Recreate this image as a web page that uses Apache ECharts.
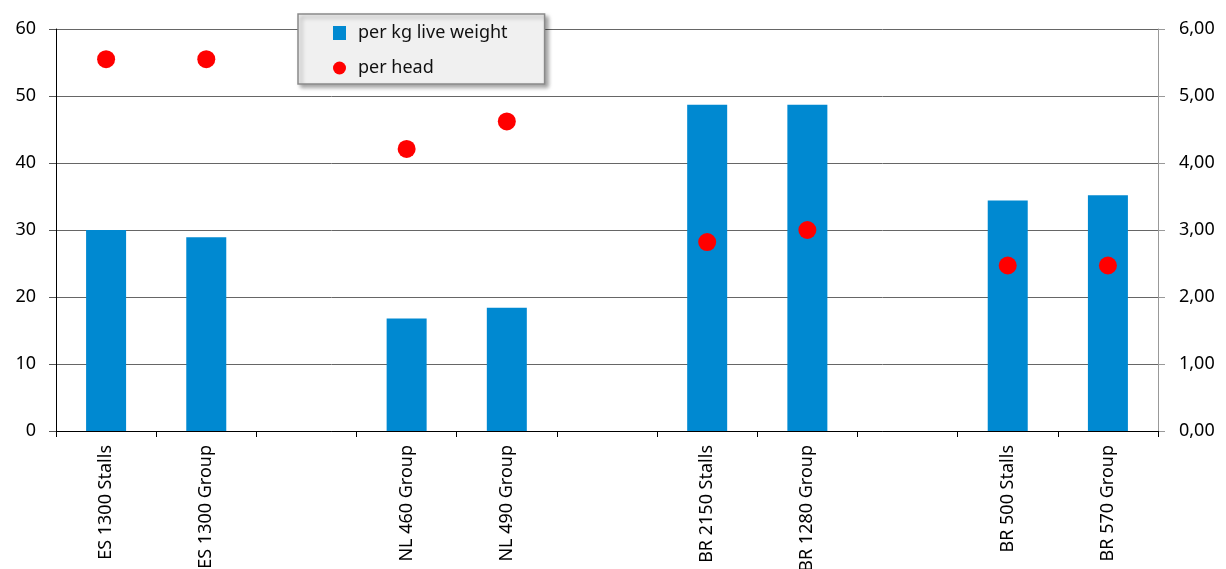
<!DOCTYPE html>
<html><head><meta charset="utf-8">
<script src="https://cdn.jsdelivr.net/npm/echarts@6/dist/echarts.min.js"></script>
<style>html,body{margin:0;padding:0;background:#fff}#c{width:1226px;height:569px}</style>
</head><body><div id="c"></div>
<script>
const categories = ["ES 1300 Stalls","ES 1300 Group","","NL 460 Group","NL 490 Group","","BR 2150 Stalls","BR 1280 Group","","BR 500 Stalls","BR 570 Group"];
const perKg = [30.0, 28.9, null, 16.8, 18.4, null, 48.7, 48.7, null, 34.4, 35.2];
const perHead = [5.55, 5.55, null, 4.21, 4.62, null, 2.82, 3.00, null, 2.47, 2.47];
const leftTicks = {min:0, max:60, interval:10};
const rightTicks = {min:0, max:6, interval:1};

const chart = echarts.init(document.getElementById('c'), null, {renderer:'canvas'});
const font = "'Noto Sans', 'Open Sans', sans-serif";
chart.setOption({
  animation:false,
  textStyle:{fontFamily:font},
  grid:{left:56, right:68, top:29, bottom:138, containLabel:false, outerBoundsMode:'none'},
  legend:{
    orient:'vertical', left:298, top:14,
    padding:[10,37,7,35], itemGap:17, itemWidth:13, itemHeight:14,
    backgroundColor:'#f0f0f0', borderColor:'#8a8a8a', borderWidth:1.5,
    shadowColor:'rgba(0,0,0,0.35)', shadowBlur:4, shadowOffsetX:3, shadowOffsetY:3,
    textStyle:{fontSize:18, color:'#111', fontFamily:font, padding:[0,0,0,7]},
    data:[{name:'per kg live weight', icon:'rect'},{name:'per head', icon:'circle'}]
  },
  xAxis:{
    type:'category', data:categories,
    axisLine:{lineStyle:{color:'#000', width:1}},
    axisTick:{show:true, length:6, lineStyle:{color:'#000'}, interval:0},
    axisLabel:{rotate:90, interval:0, fontSize:18, color:'#000', margin:14, fontFamily:font}
  },
  yAxis:[
    {type:'value', min:leftTicks.min, max:leftTicks.max, interval:leftTicks.interval,
     axisLine:{show:true, lineStyle:{color:'#000'}},
     axisTick:{show:true, length:7, lineStyle:{color:'#555'}},
     axisLabel:{fontSize:18, color:'#000', margin:20, fontFamily:font},
     splitLine:{show:true, lineStyle:{color:'#666', width:1}}},
    {type:'value', min:rightTicks.min, max:rightTicks.max, interval:rightTicks.interval,
     position:'right',
     axisLine:{show:true, lineStyle:{color:'#999'}},
     axisTick:{show:true, length:7, lineStyle:{color:'#999'}},
     axisLabel:{fontSize:18, color:'#000', margin:21, fontFamily:font,
       formatter:v=>v.toFixed(2).replace('.',',')},
     splitLine:{show:false}}
  ],
  series:[
    {name:'per kg live weight', type:'bar', yAxisIndex:0, data:perKg, barWidth:40,
     itemStyle:{color:'#0089d1'}},
    {name:'per head', type:'scatter', yAxisIndex:1, data:perHead, symbol:'circle', symbolSize:18,
     itemStyle:{color:'#ff0000', opacity:1}}
  ]
});
</script></body></html>
